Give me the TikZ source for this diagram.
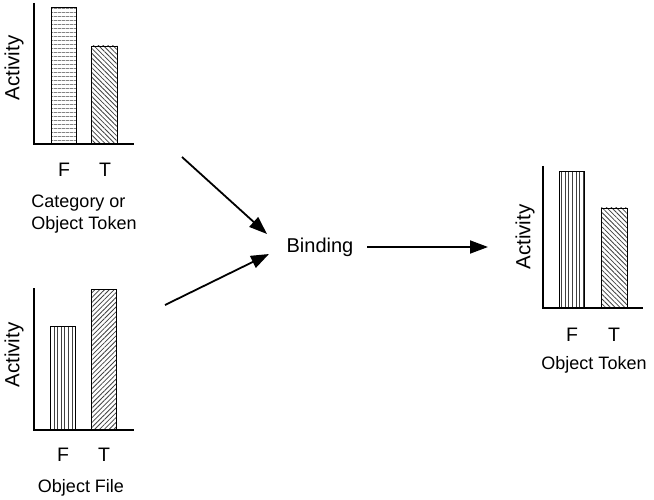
\documentclass[tikz,border=0pt]{standalone}
\usepackage{fontspec}
\setmainfont{Liberation Sans}
\usetikzlibrary{arrows.meta,patterns.meta}
\tikzset{
  axisline/.style={line width=1.8pt},
  barbox/.style={draw=black, line width=0.8pt},
  hlines/.style={barbox, pattern={Lines[angle=0,distance=4pt,line width=0.8pt]}, pattern color=black!75},
  vlines/.style={barbox, pattern={Lines[angle=90,distance=3.6pt,line width=0.8pt]}, pattern color=black!75},
  nwlines/.style={barbox, pattern={Lines[angle=-45,distance=3.4pt,line width=0.8pt]}, pattern color=black!75},
  nelines/.style={barbox, pattern={Lines[angle=45,distance=3.4pt,line width=0.8pt]}, pattern color=black!75},
  ylab/.style={rotate=90, font=\fontsize{20.5}{24}\selectfont, inner sep=0pt},
  tick/.style={font=\fontsize{19.5}{22}\selectfont, inner sep=0pt},
  caption/.style={font=\fontsize{18}{22}\selectfont, inner sep=0pt},
  flow/.style={line width=1.8pt, -{Triangle[length=18pt,width=13pt]}}
}
\begin{document}
\begin{tikzpicture}[x=1pt,y=-1pt]
\useasboundingbox (0,0) rectangle (654,500);
% ---- top-left chart
\draw[hlines] (51,144) rectangle (76,7);
\draw[nwlines] (91,144) rectangle (117,46);
\draw[axisline] (34,3) -- (34,144) -- (134,144);
\node[ylab] (a1) at (14,68) {Activity};
\node[tick] (f1) at (64,170) {F};
\node[tick] (t1) at (105,170) {T};
\node[caption, align=left] (c1) at (84,214) {Category or\\Object Token};
% ---- bottom-left chart
\draw[vlines] (50,430) rectangle (75,326);
\draw[nelines] (91,430) rectangle (116,289);
\draw[axisline] (34,288) -- (34,430) -- (134,430);
\node[ylab] (a2) at (14,355) {Activity};
\node[tick] (f2) at (63,455) {F};
\node[tick] (t2) at (104,455) {T};
\node[caption] (c2) at (81,488) {Object File};
% ---- right chart
\draw[vlines] (559,308) rectangle (584,171);
\draw[nwlines] (601,308) rectangle (627,208);
\draw[axisline] (543,166) -- (543,308) -- (643,308);
\node[ylab] (a3) at (525,237) {Activity};
\node[tick] (f3) at (572,335) {F};
\node[tick] (t3) at (614,335) {T};
\node[caption] (c3) at (594,365) {Object Token};
% ---- binding and arrows
\node[font=\fontsize{20}{24}\selectfont, inner sep=0pt] (bind) at (320,247) {Binding};
\coordinate (s1) at (182,157);
\coordinate (e1) at (267,234);
\coordinate (s2) at (165,305);
\coordinate (e2) at (269,254);
\coordinate (s3) at (367,247);
\coordinate (e3) at (488,247);
\draw[flow] (s1) -- (e1);
\draw[flow] (s2) -- (e2);
\draw[flow] (s3) -- (e3);
\end{tikzpicture}
\end{document}
